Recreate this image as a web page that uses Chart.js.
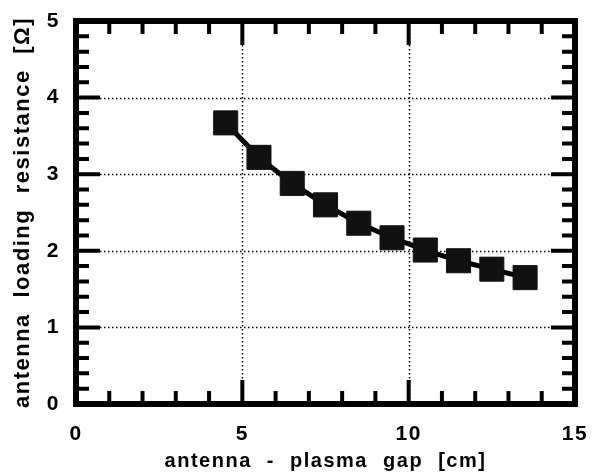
<!DOCTYPE html>
<html>
<head>
<meta charset="utf-8">
<script src="https://cdn.jsdelivr.net/npm/chart.js@4/dist/chart.umd.min.js"></script>
<style>
  html, body { margin: 0; padding: 0; background: #fff; }
  #wrap { width: 593px; height: 473px; }
</style>
</head>
<body>
<div id="wrap"><canvas id="gapChart" width="593" height="473"></canvas></div>
<script>
// antenna - plasma gap [cm] vs loading resistance [Ohm]
const gapCm = [4.5, 5.5, 6.5, 7.5, 8.5, 9.5, 10.5, 11.5, 12.5, 13.5];
const resistance = [3.67, 3.22, 2.88, 2.60, 2.36, 2.17, 2.01, 1.87, 1.76, 1.65];

const xMajor = [0, 5, 10, 15];
const yMajor = [0, 1, 2, 3, 4, 5];
const xGrid = [5, 10];
const yGrid = [1, 2, 3, 4];

const FONT = "'Liberation Sans', Arial, sans-serif";

// spaced-out lettering like the original print
const spacingPlugin = {
  id: "spacing",
  beforeDraw(chart) {
    chart.ctx.letterSpacing = "1.5px";
    chart.ctx.wordSpacing = "8px";
  },
};

// keep the plot box where it is, no matter how wide the labels get
function pinScale(s, size) {
  if (s.isHorizontal()) s.height = size;
  else s.width = size;
  s.paddingLeft = s.paddingRight = s.paddingTop = s.paddingBottom = 0;
}

// frame, inward ticks and dotted grid
const framePlugin = {
  id: "frame",
  beforeDatasetsDraw(chart) {
    const { ctx, chartArea: a, scales } = chart;
    const xs = scales.x, ys = scales.y;
    ctx.save();
    ctx.strokeStyle = "#000";
    ctx.lineWidth = 1.5;
    ctx.setLineDash([1.5, 2.5]);
    xGrid.forEach((v) => {
      const px = Math.round(xs.getPixelForValue(v)) + 0.5;
      ctx.beginPath(); ctx.moveTo(px, a.top); ctx.lineTo(px, a.bottom); ctx.stroke();
    });
    yGrid.forEach((v) => {
      const py = Math.round(ys.getPixelForValue(v)) + 0.5;
      ctx.beginPath(); ctx.moveTo(a.left, py); ctx.lineTo(a.right, py); ctx.stroke();
    });
    ctx.setLineDash([]);

    ctx.lineWidth = 4;
    for (let v = 0; v <= 15; v += 1) {
      const px = xs.getPixelForValue(v);
      const len = v % 5 === 0 ? 24 : 13;
      ctx.beginPath();
      ctx.moveTo(px, a.bottom); ctx.lineTo(px, a.bottom - len);
      ctx.moveTo(px, a.top); ctx.lineTo(px, a.top + len);
      ctx.stroke();
    }
    for (let i = 0; i <= 25; i++) {
      const py = ys.getPixelForValue(i / 5);
      const len = i % 5 === 0 ? 24 : 13;
      ctx.beginPath();
      ctx.moveTo(a.left, py); ctx.lineTo(a.left + len, py);
      ctx.moveTo(a.right, py); ctx.lineTo(a.right - len, py);
      ctx.stroke();
    }

    ctx.lineWidth = 6;
    ctx.strokeRect(a.left, a.top, a.right - a.left, a.bottom - a.top);
    ctx.restore();
  },
};

new Chart(document.getElementById("gapChart"), {
  type: "scatter",
  data: {
    datasets: [
      {
        data: gapCm.map((x, i) => ({ x, y: resistance[i] })),
        showLine: true,
        borderColor: "#000",
        borderWidth: 5,
        backgroundColor: "#000",
        pointStyle: "rect",
        pointRadius: 17,
        pointBorderWidth: 1,
        pointBorderColor: "#111",
        pointBackgroundColor: "#111",
      },
    ],
  },
  options: {
    responsive: false,
    animation: false,
    layout: { padding: { top: 21, right: 18, left: 0, bottom: 0 } },
    plugins: { legend: { display: false }, tooltip: { enabled: false } },
    scales: {
      x: {
        type: "linear",
        min: 0,
        max: 15,
        afterFit: (s) => pinScale(s, 69),
        afterBuildTicks: (s) => { s.ticks = xMajor.map((v) => ({ value: v })); },
        grid: { display: false, drawTicks: false },
        border: { display: false },
        ticks: { color: "#000", padding: 18, maxRotation: 0, font: { family: FONT, size: 21, weight: "bold" } },
        title: {
          display: true,
          text: "antenna - plasma gap [cm]",
          color: "#000",
          padding: { top: 0, bottom: 0 },
          font: { family: FONT, size: 20, weight: "bold" },
        },
      },
      y: {
        type: "linear",
        min: 0,
        max: 5,
        afterFit: (s) => pinScale(s, 76),
        afterBuildTicks: (s) => { s.ticks = yMajor.map((v) => ({ value: v })); },
        grid: { display: false, drawTicks: false },
        border: { display: false },
        ticks: { color: "#000", padding: 16, font: { family: FONT, size: 21, weight: "bold" } },
        title: {
          display: true,
          text: "antenna loading resistance [Ω]",
          color: "#000",
          padding: { top: 10, bottom: 0 },
          font: { family: FONT, size: 22, weight: "bold" },
        },
      },
    },
  },
  plugins: [spacingPlugin, framePlugin],
});
</script>
</body>
</html>
